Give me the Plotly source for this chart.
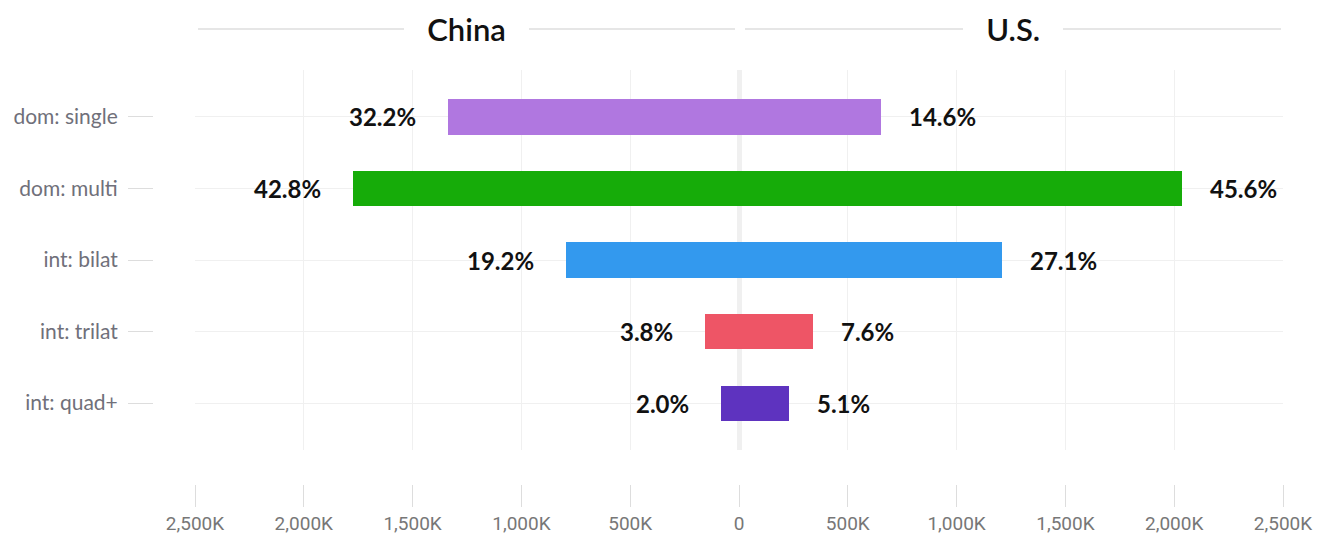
import plotly.graph_objects as go

# Categories of agreements and their share of each country's total
categories = ["dom: single", "dom: multi", "int: bilat", "int: trilat", "int: quad+"]
china_pct = [32.2, 42.8, 19.2, 3.8, 2.0]
us_pct = [14.6, 45.6, 27.1, 7.6, 5.1]

# Totals (thousands) that the shares are taken from
china_total_k = 4150
us_total_k = 4465

bar_colors = ["#b077e0", "#16ac09", "#3399ee", "#ee5566", "#5e33bf"]

tick_vals = [-2500, -2000, -1500, -1000, -500, 0, 500, 1000, 1500, 2000, 2500]
tick_text = ["2,500K", "2,000K", "1,500K", "1,000K", "500K", "0",
             "500K", "1,000K", "1,500K", "2,000K", "2,500K"]

china_vals = [p / 100 * china_total_k for p in china_pct]
us_vals = [p / 100 * us_total_k for p in us_pct]

W, H = 1317, 540
FONT = "Lato"


def px_x(px):
    return px / W


def px_y(px):
    return 1 - px / H


fig = go.Figure()

# China grows to the left (negative side), U.S. to the right
fig.add_trace(go.Bar(
    y=categories, x=[-v for v in china_vals], orientation="h",
    marker=dict(color=bar_colors, line=dict(width=0)),
    width=0.49, hoverinfo="skip", showlegend=False, name="China",
))
fig.add_trace(go.Bar(
    y=categories, x=us_vals, orientation="h",
    marker=dict(color=bar_colors, line=dict(width=0)),
    width=0.49, hoverinfo="skip", showlegend=False, name="U.S.",
))

label_font = dict(family=FONT, size=24, color="#111111", weight="bold")
annotations = []
for cat, v, p in zip(categories, china_vals, china_pct):
    annotations.append(dict(
        x=-v, y=cat, xref="x", yref="y", text=f"{p:.1f}%",
        showarrow=False, xanchor="right", yanchor="middle", xshift=-30,
        font=label_font,
    ))
for cat, v, p in zip(categories, us_vals, us_pct):
    annotations.append(dict(
        x=v, y=cat, xref="x", yref="y", text=f"{p:.1f}%",
        showarrow=False, xanchor="left", yanchor="middle", xshift=26,
        font=label_font,
    ))

# Panel headers: a rule across each half with the country name on top
header_y = px_y(29)
panels = [("China", 198, 735), ("U.S.", 745, 1281)]
shapes = []
for name, x0, x1 in panels:
    shapes.append(dict(
        type="line", xref="paper", yref="paper",
        x0=px_x(x0), x1=px_x(x1), y0=header_y, y1=header_y,
        line=dict(color="#e6e6e6", width=2), layer="below",
    ))
    annotations.append(dict(
        x=px_x((x0 + x1) / 2), y=header_y, xref="paper", yref="paper",
        text="\u2003" + name + "\u2003", showarrow=False,
        xanchor="center", yanchor="middle",
        bgcolor="white", borderpad=0, borderwidth=0,
        font=dict(family=FONT, size=31, color="#111111", weight=600),
    ))

fig.update_layout(
    width=W, height=H,
    margin=dict(l=0, r=0, t=0, b=0, autoexpand=False),
    paper_bgcolor="white", plot_bgcolor="white",
    barmode="overlay", bargap=0,
    font=dict(family=FONT),
    shapes=shapes, annotations=annotations,
    xaxis=dict(
        domain=[px_x(195), px_x(1283)],
        range=[-2500, 2500], automargin=False,
        tickmode="array", tickvals=tick_vals, ticktext=tick_text,
        anchor="free", position=px_y(484),
        ticks="outside", ticklen=22, tickwidth=1, tickcolor="#dddddd",
        tickfont=dict(family="Roboto", size=19, color="#777777"),
        showgrid=True, gridcolor="#f0f0f0", gridwidth=1,
        zeroline=True, zerolinecolor="#f0f0f0", zerolinewidth=5,
        showline=False, fixedrange=True,
    ),
    yaxis=dict(
        domain=[px_y(450), px_y(70)], automargin=False,
        categoryorder="array", categoryarray=categories,
        range=[4.657, -0.657],
        anchor="free", position=px_x(153),
        ticks="outside", ticklen=25, tickwidth=1, tickcolor="#dddddd",
        tickfont=dict(family=FONT, size=21, color="#70707a"),
        ticklabelstandoff=6,
        showgrid=True, gridcolor="#f0f0f0", gridwidth=1,
        zeroline=False, showline=False, fixedrange=True,
    ),
)

fig.write_html("out.html", config={"displayModeBar": False})
